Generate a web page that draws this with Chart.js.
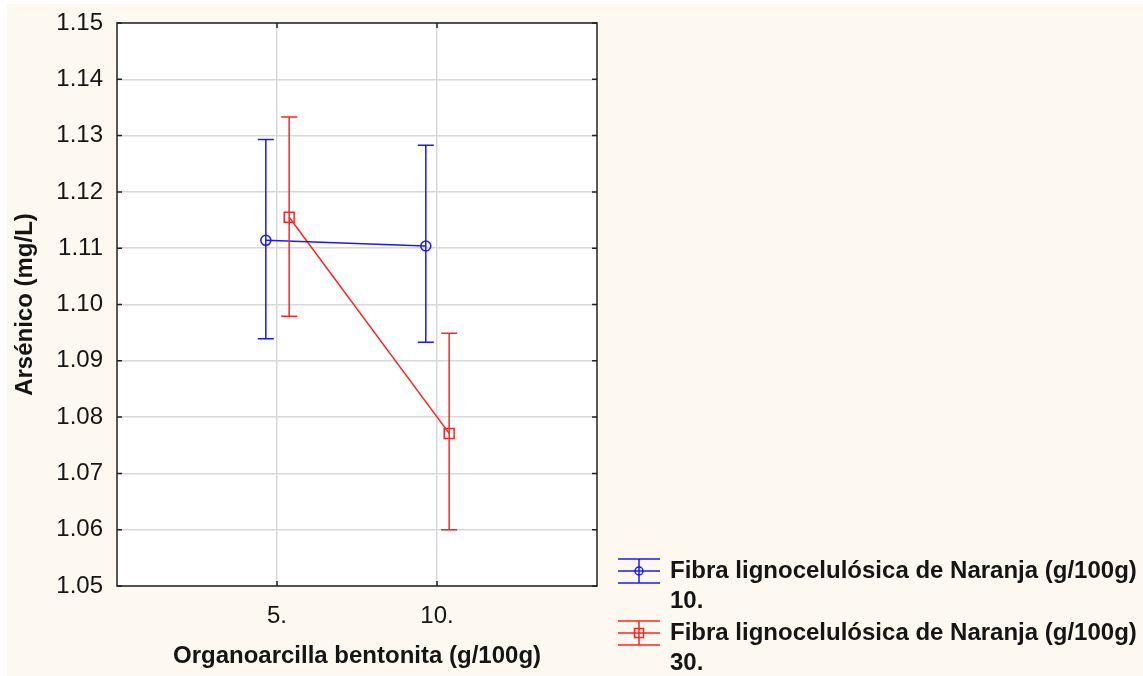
<!DOCTYPE html>
<html>
<head>
<meta charset="utf-8">
<script src="https://cdn.jsdelivr.net/npm/chart.js@4"></script>
<style>
  body { margin: 0; background: #ffffff; }
  #wrap { position: absolute; left: 7px; top: 4px; width: 1136px; height: 672px; background: #fdf9f0; }
</style>
</head>
<body>
<div id="wrap"><canvas id="chartArsenico"></canvas></div>
<script>
const chartArsenico = document.getElementById('chartArsenico');

// bentonita levels (g/100g)
const bentonita = [5, 10];
const xTicks = [5, 10];
const yTicks = [1.05, 1.06, 1.07, 1.08, 1.09, 1.10, 1.11, 1.12, 1.13, 1.14, 1.15];

// fibra 10 g/100g
const fibra10Label = ['Fibra lignocelulósica de Naranja (g/100g)', '10.'];
const fibra10Mean = [1.1114, 1.1104];
const fibra10Low = [1.0939, 1.0933];
const fibra10High = [1.1293, 1.1283];

// fibra 30 g/100g
const fibra30Label = ['Fibra lignocelulósica de Naranja (g/100g)', '30.'];
const fibra30Mean = [1.1155, 1.0771];
const fibra30Low = [1.0979, 1.0600];
const fibra30High = [1.1333, 1.0949];

const blue = 'rgb(25,25,255)';
const red = 'rgb(255,35,35)';
const font = '"Liberation Sans", Arial, sans-serif';

// small horizontal dodge so the two groups don't overlap
function dodge(xs, d) {
    return xs.map(x => x + d);
}

function points(xs, ys, lo, hi) {
    return xs.map((x, i) => ({ x: x, y: ys[i], lo: lo[i], hi: hi[i] }));
}

const errorBars = {
    id: 'errorBars',
    beforeDraw(chart) {
        const { ctx, chartArea } = chart;
        ctx.save();
        ctx.fillStyle = '#ffffff';
        ctx.fillRect(chartArea.left, chartArea.top, chartArea.right - chartArea.left, chartArea.bottom - chartArea.top);
        ctx.restore();
    },
    afterDatasetsDraw(chart) {
        const { ctx } = chart;
        const y = chart.scales.y;
        chart.data.datasets.forEach((ds, di) => {
            const meta = chart.getDatasetMeta(di);
            ctx.save();
            ctx.strokeStyle = ds.borderColor;
            ctx.lineWidth = 1.5;
            meta.data.forEach((pt, i) => {
                const top = y.getPixelForValue(ds.data[i].hi);
                const bot = y.getPixelForValue(ds.data[i].lo);
                ctx.beginPath();
                ctx.moveTo(pt.x, top);
                ctx.lineTo(pt.x, bot);
                ctx.moveTo(pt.x - 8, top);
                ctx.lineTo(pt.x + 8, top);
                ctx.moveTo(pt.x - 8, bot);
                ctx.lineTo(pt.x + 8, bot);
                ctx.stroke();
            });
            ctx.restore();
        });
    },
    afterDraw(chart) {
        const { ctx, chartArea: a } = chart;
        const xs = chart.scales.x, ys = chart.scales.y;
        ctx.save();
        ctx.strokeStyle = '#222222';
        ctx.lineWidth = 1.5;
        ctx.strokeRect(a.left, a.top, a.right - a.left, a.bottom - a.top);
        // inner tick marks
        ctx.beginPath();
        yTicks.forEach(v => {
            const p = ys.getPixelForValue(v);
            ctx.moveTo(a.left, p); ctx.lineTo(a.left + 5, p);
            ctx.moveTo(a.right, p); ctx.lineTo(a.right - 5, p);
        });
        xTicks.forEach(v => {
            const p = xs.getPixelForValue(v);
            ctx.moveTo(p, a.top); ctx.lineTo(p, a.top + 5);
            ctx.moveTo(p, a.bottom); ctx.lineTo(p, a.bottom - 5);
        });
        ctx.stroke();

        // legend
        const items = [
            { label: fibra10Label, color: blue, style: 'circle' },
            { label: fibra30Label, color: red, style: 'rect' }
        ];
        const lx = a.right + 21, ly = a.bottom - 15;
        items.forEach((it, k) => {
            const cy = ly + k * 62;
            const cx = lx + 21;
            ctx.strokeStyle = it.color;
            ctx.lineWidth = 1.5;
            ctx.beginPath();
            ctx.moveTo(lx, cy - 12); ctx.lineTo(lx + 42, cy - 12);
            ctx.moveTo(lx, cy); ctx.lineTo(lx + 42, cy);
            ctx.moveTo(lx, cy + 12); ctx.lineTo(lx + 42, cy + 12);
            ctx.moveTo(cx, cy - 12); ctx.lineTo(cx, cy + 12);
            ctx.stroke();
            ctx.beginPath();
            if (it.style === 'circle') ctx.arc(cx, cy, 4, 0, Math.PI * 2);
            else ctx.rect(cx - 4.5, cy - 4.5, 9, 9);
            ctx.stroke();

            ctx.fillStyle = '#151515';
            ctx.font = 'bold 24px ' + font;
            ctx.textBaseline = 'alphabetic';
            ctx.fillText(it.label[0], lx + 52, cy + 7);
            ctx.fillText(it.label[1], lx + 52, cy + 37);
        });
        ctx.restore();
    }
};

const chart = new Chart(chartArsenico, {
    type: 'scatter',
    data: {
        datasets: [
            {
                label: fibra10Label.join(' '),
                data: points(dodge(bentonita, -0.35), fibra10Mean, fibra10Low, fibra10High),
                showLine: true,
                borderColor: blue,
                borderWidth: 1.5,
                pointStyle: 'circle',
                pointRadius: 5,
                pointBorderWidth: 1.5,
                pointBackgroundColor: 'rgba(0,0,0,0)',
                pointBorderColor: blue
            },
            {
                label: fibra30Label.join(' '),
                data: points(dodge(bentonita, 0.38), fibra30Mean, fibra30Low, fibra30High),
                showLine: true,
                borderColor: red,
                borderWidth: 1.5,
                pointStyle: 'rect',
                pointRadius: 7,
                pointBorderWidth: 1.5,
                pointBackgroundColor: 'rgba(0,0,0,0)',
                pointBorderColor: red
            }
        ]
    },
    options: {
        responsive: true,
        maintainAspectRatio: false,
        animation: false,
        layout: { padding: { left: 0, top: 19, right: 546, bottom: 0 } },
        plugins: {
            legend: { display: false },
            tooltip: { enabled: false }
        },
        scales: {
            x: {
                type: 'linear',
                min: 0,
                max: 15,
                afterBuildTicks: (s) => { s.ticks = xTicks.map(v => ({ value: v })); },
                afterFit: (s) => { s.height = 90; s.paddingLeft = 0; s.paddingRight = 0; },
                grid: { color: '#d8d8d8', lineWidth: 1.5, drawTicks: false },
                border: { display: false },
                ticks: {
                    padding: 16,
                    color: '#151515',
                    font: { family: font, size: 24 },
                    callback: (v) => v + '.'
                },
                title: {
                    display: true,
                    text: 'Organoarcilla bentonita (g/100g)',
                    color: '#151515',
                    font: { family: font, size: 24, weight: 'bold' },
                    padding: { top: 0, bottom: 5 }
                }
            },
            y: {
                min: 1.05,
                max: 1.15,
                afterBuildTicks: (s) => { s.ticks = yTicks.map(v => ({ value: v })); },
                afterFit: (s) => { s.width = 110; s.paddingTop = 0; s.paddingBottom = 0; },
                grid: { color: '#d8d8d8', lineWidth: 1.5, drawTicks: false },
                border: { display: false },
                ticks: {
                    padding: 14,
                    color: '#151515',
                    font: { family: font, size: 24 },
                    callback: (v) => v.toFixed(2)
                },
                title: {
                    display: true,
                    text: 'Arsénico (mg/L)',
                    color: '#151515',
                    font: { family: font, size: 24, weight: 'bold' },
                    padding: { top: 4, bottom: 0 }
                }
            }
        }
    },
    plugins: [errorBars]
});
</script>
</body>
</html>
